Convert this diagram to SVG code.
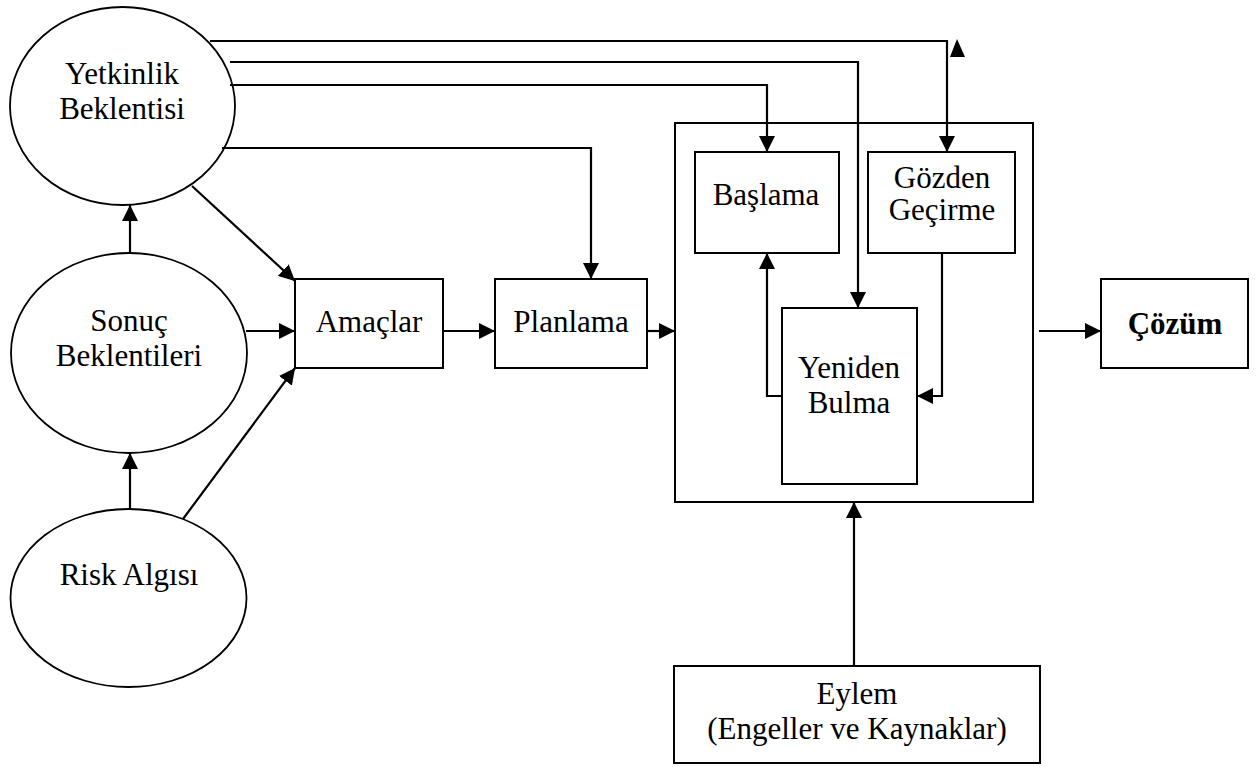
<svg xmlns="http://www.w3.org/2000/svg" width="1256" height="767" viewBox="0 0 1256 767">
  <style>
    .shape { fill: #fff; stroke: #000; stroke-width: 2; }
    .oval { fill: #fff; stroke: #000; stroke-width: 1.8; }
    .link { fill: none; stroke: #000; stroke-width: 2.2; }
    .label { font-family: "Liberation Serif", "Times New Roman", serif; font-size: 31px; fill: #000; text-anchor: middle; }
    .bold { font-weight: bold; }
  </style>
  <defs>
    <marker id="arrow" markerUnits="userSpaceOnUse" markerWidth="17" markerHeight="16" refX="16" refY="8" orient="auto">
      <path d="M0,0 L16,8 L0,16 Z" fill="#000"/>
    </marker>
  </defs>

  <rect width="1256" height="767" fill="#fff"/>

  <!-- outer process frame -->
  <g id="process">
    <rect class="shape" x="675" y="123" width="358" height="379"/>
  </g>

  <g id="yetkinlik">
    <ellipse class="oval" cx="122.5" cy="106" rx="112.5" ry="99"/>
    <text class="label" x="122" y="84">Yetkinlik</text>
    <text class="label" x="122" y="119">Beklentisi</text>
  </g>

  <g id="sonuc">
    <ellipse class="oval" cx="129" cy="353" rx="118" ry="100"/>
    <text class="label" x="129" y="331">Sonuç</text>
    <text class="label" x="129" y="366">Beklentileri</text>
  </g>

  <g id="risk">
    <ellipse class="oval" cx="128.5" cy="598" rx="118" ry="89"/>
    <text class="label" x="129" y="585">Risk Algısı</text>
  </g>

  <g id="amaclar">
    <rect class="shape" x="295" y="279" width="148" height="89"/>
    <text class="label" x="369" y="332">Amaçlar</text>
  </g>

  <g id="planlama">
    <rect class="shape" x="495" y="279" width="152" height="89"/>
    <text class="label" x="571" y="332">Planlama</text>
  </g>

  <g id="baslama">
    <rect class="shape" x="695" y="152" width="144" height="101"/>
    <text class="label" x="766" y="205">Başlama</text>
  </g>

  <g id="gozden">
    <rect class="shape" x="868" y="152" width="147" height="101"/>
    <text class="label" x="942" y="188">Gözden</text>
    <text class="label" x="942" y="220">Geçirme</text>
  </g>

  <g id="yeniden">
    <rect class="shape" x="782" y="308" width="135" height="176"/>
    <text class="label" x="849" y="378">Yeniden</text>
    <text class="label" x="849" y="413">Bulma</text>
  </g>

  <g id="cozum">
    <rect class="shape" x="1101" y="279" width="147" height="89"/>
    <text class="label bold" x="1175" y="334">Çözüm</text>
  </g>

  <g id="eylem">
    <rect class="shape" x="674" y="666" width="366" height="97"/>
    <text class="label" x="857" y="704">Eylem</text>
    <text class="label" x="857" y="739">(Engeller ve Kaynaklar)</text>
  </g>

  <g id="connectors">
    <!-- Yetkinlik Beklentisi feeds -->
    <polyline class="link" points="210,41 947,41 947,152" marker-end="url(#arrow)"/>
    <polyline class="link" points="230,62 858,62 858,308" marker-end="url(#arrow)"/>
    <polyline class="link" points="230,85 767,85 767,152" marker-end="url(#arrow)"/>
    <polyline class="link" points="222,148 591,148 591,279" marker-end="url(#arrow)"/>
    <line class="link" x1="192" y1="186" x2="295" y2="281" marker-end="url(#arrow)"/>
    <!-- stray arrowhead beside the top line -->
    <polygon points="957,39 950,57 965,57" fill="#000"/>

    <!-- expectation chain -->
    <line class="link" x1="130" y1="253" x2="130" y2="205" marker-end="url(#arrow)"/>
    <line class="link" x1="130" y1="509" x2="130" y2="453" marker-end="url(#arrow)"/>
    <line class="link" x1="246" y1="331" x2="295" y2="331" marker-end="url(#arrow)"/>
    <line class="link" x1="183" y1="519" x2="295" y2="368" marker-end="url(#arrow)"/>

    <!-- main flow -->
    <line class="link" x1="443" y1="331" x2="495" y2="331" marker-end="url(#arrow)"/>
    <line class="link" x1="647" y1="331" x2="675" y2="331" marker-end="url(#arrow)"/>
    <line class="link" x1="1039" y1="331" x2="1101" y2="331" marker-end="url(#arrow)"/>
    <line class="link" x1="854" y1="666" x2="854" y2="502" marker-end="url(#arrow)"/>

    <!-- inner loop -->
    <polyline class="link" points="782,396 767,396 767,253" marker-end="url(#arrow)"/>
    <polyline class="link" points="942,253 942,396 917,396" marker-end="url(#arrow)"/>
  </g>
</svg>
